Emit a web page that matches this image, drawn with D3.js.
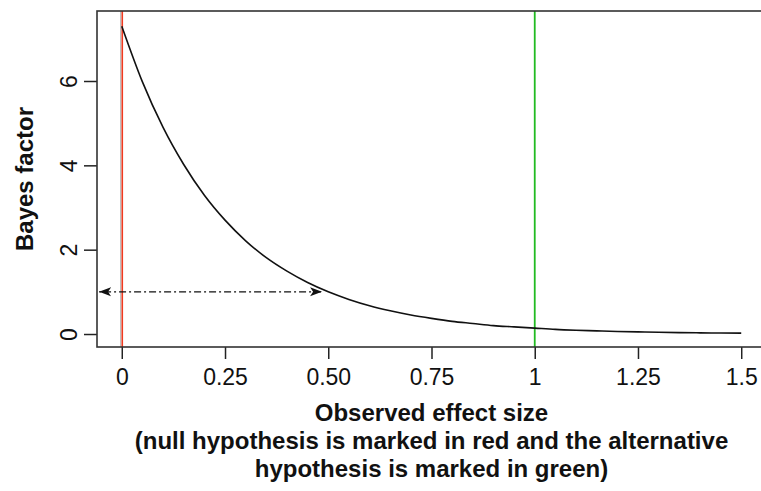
<!DOCTYPE html>
<html>
<head>
<meta charset="utf-8">
<script src="https://cdn.jsdelivr.net/npm/d3@7"></script>
<style>
  body { margin: 0; background: #fff; }
  text { font-family: "Liberation Sans", Arial, Helvetica, sans-serif; }
</style>
</head>
<body>
<svg id="chart" width="761" height="491"></svg>
<script>
// values
var effectSizes = [0, 0.05, 0.1, 0.15, 0.2, 0.25, 0.3, 0.35, 0.4, 0.45, 0.5,
                   0.55, 0.6, 0.65, 0.7, 0.75, 0.8, 0.85, 0.9, 0.95, 1,
                   1.05, 1.1, 1.15, 1.2, 1.25, 1.3, 1.35, 1.4, 1.45, 1.5];
var bayesFactor = [7.3, 5.98, 4.9, 4.02, 3.29, 2.7, 2.21, 1.81, 1.49, 1.22, 1.0,
                   0.82, 0.67, 0.55, 0.45, 0.37, 0.3, 0.25, 0.2, 0.17, 0.14,
                   0.11, 0.09, 0.075, 0.06, 0.05, 0.04, 0.034, 0.028, 0.023, 0.02];
var xTickValues = [0, 0.25, 0.5, 0.75, 1, 1.25, 1.5];
var xTickLabels = ["0", "0.25", "0.50", "0.75", "1", "1.25", "1.5"];
var yTickValues = [0, 2, 4, 6];
var nullEffect = 0;
var altEffect = 1;
var arrowRange = [-0.055, 0.485];
var arrowLevel = 1;
var xTitle = ["Observed effect size",
              "(null hypothesis is marked in red and the alternative",
              "hypothesis is marked in green)"];
var yTitle = "Bayes factor";

var svg = d3.select("#chart");
var boxL = 97, boxR = 766, boxT = 11, boxB = 347;

var x = d3.scaleLinear().domain([-0.06, 1.56]).range([boxL, boxR]);
var y = d3.scaleLinear().domain([-0.308, 7.66]).range([boxB, boxT]);

var defs = svg.append("defs");
defs.append("marker")
    .attr("id", "head")
    .attr("viewBox", "0 -5 12 10")
    .attr("refX", 12).attr("refY", 0)
    .attr("markerWidth", 12).attr("markerHeight", 10)
    .attr("markerUnits", "userSpaceOnUse")
    .attr("orient", "auto-start-reverse")
    .append("path")
    .attr("d", "M0,-4.5L12,0L0,4.5L3,0Z")
    .attr("fill", "#111");

// x axis
var xAxis = svg.append("g")
    .attr("transform", "translate(0," + boxB + ")")
    .call(d3.axisBottom(x).tickValues(xTickValues).tickSize(12)
          .tickFormat(function(d, i){ return xTickLabels[i]; }));
xAxis.select(".domain").remove();
xAxis.selectAll("line").attr("stroke", "#222").attr("stroke-width", 1.5);
xAxis.selectAll("text")
    .attr("y", 38).attr("dy", 0)
    .attr("font-size", 23).attr("fill", "#111")
    .style("font-family", "Liberation Sans, Arial, sans-serif");

// y axis
var yAxis = svg.append("g")
    .attr("transform", "translate(" + boxL + ",0)")
    .call(d3.axisLeft(y).tickValues(yTickValues).tickSize(13));
yAxis.select(".domain").remove();
yAxis.selectAll("line").attr("stroke", "#222").attr("stroke-width", 1.5);
yAxis.selectAll("text")
    .attr("x", 0).attr("dy", 0).attr("y", 0)
    .attr("text-anchor", "middle")
    .attr("transform", "translate(-20,0) rotate(-90)")
    .attr("font-size", 23).attr("fill", "#111")
    .style("font-family", "Liberation Sans, Arial, sans-serif");

// reference lines
svg.append("line")
    .attr("x1", x(nullEffect) - 1).attr("x2", x(nullEffect) - 1)
    .attr("y1", boxT).attr("y2", boxB)
    .attr("stroke", "#aaa").attr("stroke-width", 1);
svg.append("line")
    .attr("x1", x(nullEffect) + 0.5).attr("x2", x(nullEffect) + 0.5)
    .attr("y1", boxT).attr("y2", boxB)
    .attr("stroke", "#f03a20").attr("stroke-width", 1.6);
svg.append("line")
    .attr("x1", x(altEffect)).attr("x2", x(altEffect))
    .attr("y1", boxT).attr("y2", boxB)
    .attr("stroke", "#22bb22").attr("stroke-width", 1.8);

// curve
var line = d3.line()
    .x(function(d){ return x(d[0]); })
    .y(function(d){ return y(d[1]); })
    .curve(d3.curveMonotoneX);
svg.append("path")
    .datum(d3.zip(effectSizes, bayesFactor))
    .attr("d", line)
    .attr("fill", "none")
    .attr("stroke", "#111")
    .attr("stroke-width", 1.6);

// double arrow
svg.append("line")
    .attr("x1", x(arrowRange[0])).attr("x2", x(arrowRange[1]))
    .attr("y1", y(arrowLevel)).attr("y2", y(arrowLevel))
    .attr("stroke", "#111").attr("stroke-width", 1.3)
    .attr("stroke-dasharray", "2,3,7,3")
    .attr("marker-start", "url(#head)")
    .attr("marker-end", "url(#head)");

// box
svg.append("rect")
    .attr("x", boxL).attr("y", boxT)
    .attr("width", boxR - boxL).attr("height", boxB - boxT)
    .attr("fill", "none").attr("stroke", "#333").attr("stroke-width", 1.6);

// titles
var cx = (boxL + boxR) / 2;
svg.selectAll("text.xtitle")
    .data(xTitle).enter()
    .append("text")
    .attr("class", "xtitle")
    .attr("x", cx)
    .attr("y", function(d, i){ return 421 + i * 28; })
    .attr("text-anchor", "middle")
    .attr("font-size", 24).attr("font-weight", "bold").attr("fill", "#111")
    .text(function(d){ return d; });

svg.append("text")
    .attr("transform", "translate(33," + (boxT + boxB) / 2 + ") rotate(-90)")
    .attr("text-anchor", "middle")
    .attr("font-size", 24).attr("font-weight", "bold").attr("fill", "#111")
    .text(yTitle);
</script>
</body>
</html>
